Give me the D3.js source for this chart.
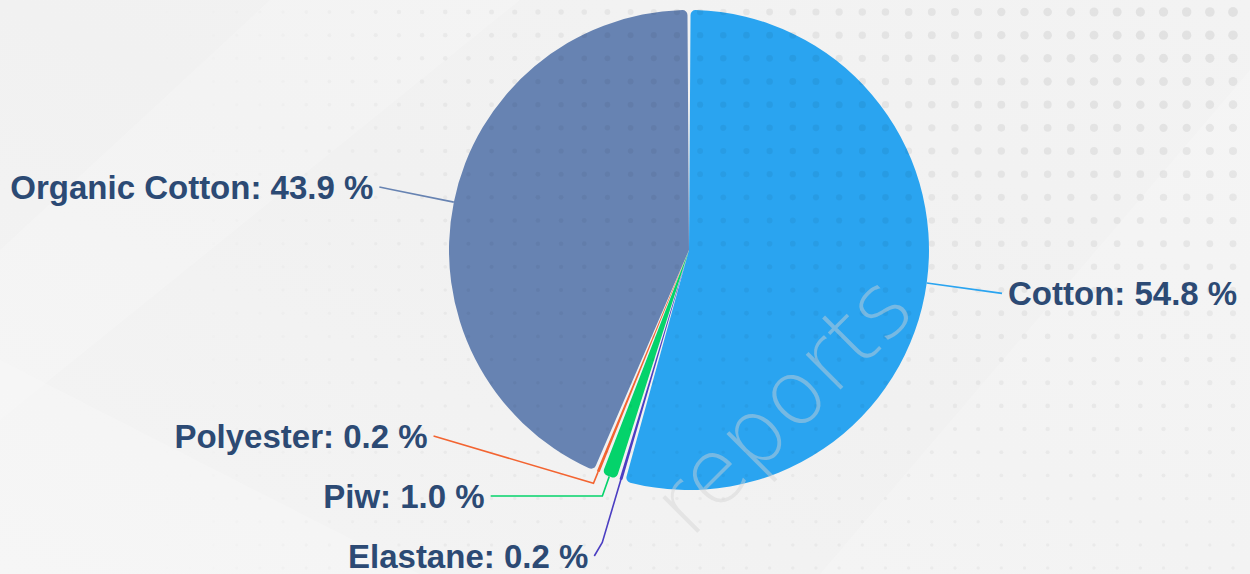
<!DOCTYPE html>
<html>
<head>
<meta charset="utf-8">
<script src="https://cdn.jsdelivr.net/npm/d3@7"></script>
<style>
  html, body { margin: 0; padding: 0; background: #f2f2f2; overflow: hidden; }
</style>
</head>
<body>
<svg id="chart" width="1250" height="574"></svg>
<script>
// Data
const materials = ["Cotton", "Elastane", "Piw", "Polyester", "Organic Cotton"];
const shares = [54.8, 0.2, 1.0, 0.2, 43.9];
const colors = ["#2aa4f0", "#4b3ec2", "#04d36b", "#f36431", "#6783b2"];

const width = 1250, height = 574;
const cx = 689, cy = 250, radius = 240;

const rows = materials.map((m, i) => ({ name: m, share: shares[i], color: colors[i] }));

const svg = d3.select("#chart");

// background
const defs = svg.append("defs");
const bg = defs.append("linearGradient").attr("id", "bg")
    .attr("x1", "0%").attr("y1", "100%").attr("x2", "100%").attr("y2", "0%");
bg.append("stop").attr("offset", "0%").attr("stop-color", "#f4f4f4");
bg.append("stop").attr("offset", "50%").attr("stop-color", "#f1f1f1");
bg.append("stop").attr("offset", "100%").attr("stop-color", "#f3f3f3");
svg.append("rect").attr("width", width).attr("height", height).attr("fill", "url(#bg)");

// faint diagonal bands
const bands = [
    [[0, 250], [270, 0], [520, 0], [0, 420]],
    [[0, 360], [0, 574], [420, 574]],
    [[1250, 70], [1250, 574], [820, 574]]
];
svg.append("g").selectAll("polygon").data(bands).join("polygon")
    .attr("points", d => d.map(p => p.join(",")).join(" "))
    .attr("fill", "#ffffff")
    .attr("opacity", 0.18);

// pie
const pie = d3.pie().sort(null).value(d => d.share).padAngle(0.013);
const arc = d3.arc().innerRadius(0).outerRadius(radius).cornerRadius(5);
const arcs = pie(rows);

const g = svg.append("g").attr("transform", `translate(${cx},${cy})`);
g.selectAll("path.slice").data(arcs).join("path")
    .attr("class", "slice")
    .attr("d", arc)
    .attr("fill", d => d.data.color);

// dot pattern over everything
const step = 23.17;
const dots = [];
for (let y = 12; y < height; y += step) {
    for (let x = 5; x < width; x += step) {
        const dx = (width - x) / 1000, dy = y / 520;
        const f = Math.max(0, 1 - Math.sqrt(dx * dx + dy * dy));
        const fadeLeft = Math.max(0, Math.min(1, (x - 150) / 300));
        if (fadeLeft <= 0) continue;
        dots.push({ x, y, r: (3.5 + 6.5 * f) / 2, o: (0.035 + 0.035 * f) * fadeLeft });
    }
}
svg.append("g").selectAll("circle").data(dots).join("circle")
    .attr("cx", d => d.x).attr("cy", d => d.y).attr("r", d => d.r)
    .attr("fill", "#000").attr("fill-opacity", d => d.o);

// watermark
svg.append("text")
    .attr("transform", "translate(690,540) rotate(-45)")
    .attr("font-family", "DejaVu Sans, sans-serif")
    .attr("font-weight", 200)
    .attr("font-size", 90)
    .attr("fill", "rgb(210,210,210)")
    .attr("fill-opacity", 0.45)
    .text("reports");

// labels
const labelR = 316, spacing = 60, topBound = 20, bottomBound = 556;
const labels = arcs.map(d => {
    const mid = (d.startAngle + d.endAngle) / 2;
    return {
        d, mid,
        side: Math.sin(mid) >= 0 ? 1 : -1,
        target: cy - labelR * Math.cos(mid)
    };
});

function distribute(list) {
    list.sort((a, b) => a.target - b.target);
    let clusters = list.map(l => ({ items: [l], center: l.target }));
    const place = c => {
        const n = c.items.length;
        c.center = d3.mean(c.items, l => l.target);
        let first = c.center - (n - 1) / 2 * spacing;
        let last = first + (n - 1) * spacing;
        if (last > bottomBound) first -= last - bottomBound;
        if (first < topBound) first = topBound;
        c.items.forEach((l, k) => l.y = first + k * spacing);
    };
    clusters.forEach(place);
    let merged = true;
    while (merged) {
        merged = false;
        for (let i = 0; i < clusters.length - 1; i++) {
            const a = clusters[i], b = clusters[i + 1];
            if (a.items[a.items.length - 1].y + spacing > b.items[0].y) {
                const c = { items: a.items.concat(b.items) };
                place(c);
                clusters.splice(i, 2, c);
                merged = true;
                break;
            }
        }
    }
}
distribute(labels.filter(l => l.side > 0));
distribute(labels.filter(l => l.side < 0));

labels.forEach(l => {
    const s = Math.sin(l.mid), c = Math.cos(l.mid);
    l.touch = [cx + radius * s, cy - radius * c];
    let t = Math.abs(c) > 0.01 ? (l.y - l.touch[1]) / (-c) : 65;
    if (!(t >= 12)) t = 12;
    t = Math.min(t, 65);
    l.brk = [l.touch[0] + t * s, l.touch[1] - t * c];
    let ax = cx + l.side * Math.sqrt(Math.max(0, labelR * labelR - (l.y - cy) ** 2));
    if (l.side > 0) ax = Math.max(ax, l.brk[0] + 8);
    else ax = Math.min(ax, l.brk[0] - 8);
    l.anchor = [ax, l.y];
});

const lg = svg.append("g");
lg.selectAll("polyline").data(labels).join("polyline")
    .attr("points", l => [l.touch, l.brk, l.anchor].map(p => p.join(",")).join(" "))
    .attr("fill", "none")
    .attr("stroke", l => l.d.data.color)
    .attr("stroke-width", 1.6);

lg.selectAll("text").data(labels).join("text")
    .attr("x", l => l.anchor[0] + l.side * 6)
    .attr("y", l => l.anchor[1])
    .attr("dy", "0.36em")
    .attr("text-anchor", l => l.side > 0 ? "start" : "end")
    .attr("font-family", "Liberation Sans, Arial, Helvetica, sans-serif")
    .attr("font-weight", "bold")
    .attr("font-size", 33)
    .attr("fill", "#2c4a74")
    .text(l => `${l.d.data.name}: ${l.d.data.share.toFixed(1)} %`);
</script>
</body>
</html>
